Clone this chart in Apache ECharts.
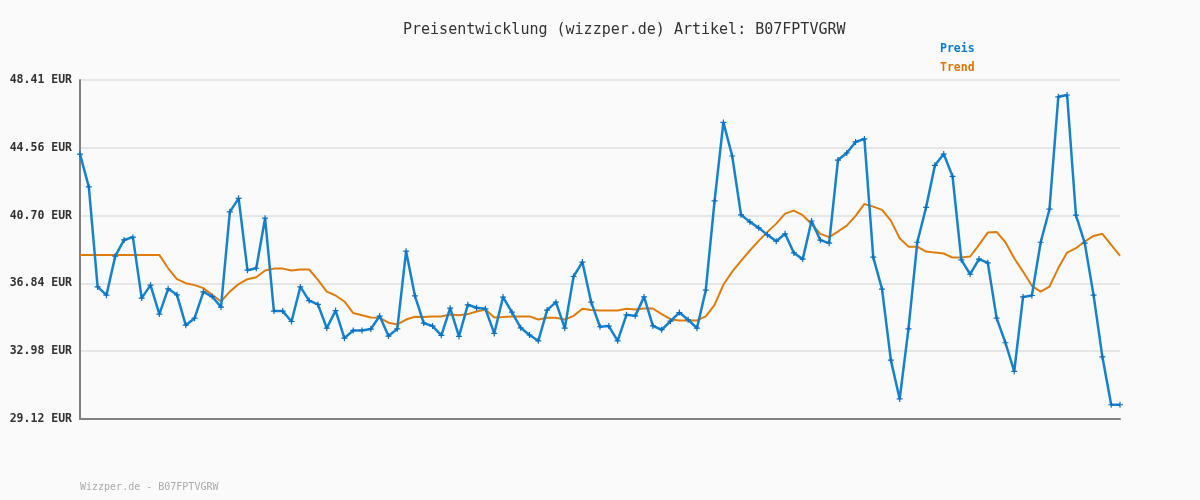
<!DOCTYPE html>
<html>
<head>
<meta charset="utf-8">
<script src="https://cdn.jsdelivr.net/npm/echarts@6/dist/echarts.min.js"></script>
<style>
html,body{margin:0;padding:0;background:#fafafa;}
#chart{width:1200px;height:500px;}
</style>
</head>
<body>
<div id="chart"></div>
<script>
const titleText = 'Preisentwicklung (wizzper.de) Artikel: B07FPTVGRW';
const footerText = 'Wizzper.de - B07FPTVGRW';
const seriesNames = ['Preis', 'Trend'];
const yTickLabels = ['29.12', '32.98', '36.84', '40.70', '44.56', '48.41'];
const yMin = 29.12;
const yMax = 48.415;

const preis = [
  44.20, 42.33, 36.64, 36.17, 38.39, 39.31, 39.47, 36.00, 36.74, 35.09,
  36.53, 36.19, 34.46, 34.86, 36.36, 36.09, 35.49, 40.91, 41.68, 37.59,
  37.70, 40.55, 35.26, 35.26, 34.67, 36.64, 35.86, 35.64, 34.29, 35.29,
  33.72, 34.16, 34.16, 34.24, 34.98, 33.84, 34.25, 38.67, 36.13, 34.58,
  34.41, 33.88, 35.43, 33.82, 35.62, 35.45, 35.39, 33.99, 36.06, 35.20,
  34.31, 33.90, 33.57, 35.32, 35.77, 34.29, 37.23, 38.05, 35.77, 34.37,
  34.41, 33.57, 35.05, 34.99, 36.07, 34.42, 34.20, 34.69, 35.18, 34.77,
  34.29, 36.45, 41.53, 46.00, 44.09, 40.74, 40.34, 40.00, 39.60, 39.24,
  39.66, 38.57, 38.22, 40.39, 39.30, 39.13, 43.86, 44.26, 44.89, 45.06,
  38.33, 36.51, 32.47, 30.26, 34.25, 39.18, 41.17, 43.56, 44.20, 42.93,
  38.18, 37.36, 38.22, 38.01, 34.86, 33.46, 31.83, 36.07, 36.15, 39.18,
  41.06, 47.46, 47.56, 40.72, 39.13, 36.17, 32.66, 29.93, 29.93
];

const trend = [
  38.46, 38.46, 38.46, 38.46, 38.46, 38.46, 38.46, 38.46, 38.46, 38.46,
  37.70, 37.08, 36.85, 36.74, 36.57, 36.19, 35.81, 36.37, 36.80, 37.08,
  37.19, 37.57, 37.68, 37.68, 37.57, 37.63, 37.63, 37.04, 36.37, 36.15,
  35.81, 35.15, 35.03, 34.90, 34.88, 34.60, 34.50, 34.78, 34.94, 34.92,
  34.96, 34.96, 35.07, 35.03, 35.09, 35.24, 35.35, 34.90, 34.92, 34.96,
  34.96, 34.96, 34.78, 34.88, 34.88, 34.78, 34.99, 35.39, 35.33, 35.30,
  35.30, 35.30, 35.39, 35.35, 35.41, 35.41, 35.09, 34.80, 34.73, 34.73,
  34.73, 34.96, 35.62, 36.76, 37.51, 38.12, 38.71, 39.26, 39.77, 40.24,
  40.81, 40.98, 40.72, 40.22, 39.66, 39.47, 39.79, 40.13, 40.68, 41.36,
  41.21, 41.02, 40.41, 39.41, 38.93, 38.93, 38.65, 38.59, 38.54, 38.31,
  38.31, 38.37, 39.03, 39.73, 39.77, 39.18, 38.27, 37.51, 36.70, 36.37,
  36.66, 37.71, 38.59, 38.84, 39.22, 39.54, 39.66, 39.03, 38.40
];

const categories = preis.map((_, i) => 'Tag ' + (i + 1));

const chart = echarts.init(document.getElementById('chart'), null, {renderer: 'canvas'});
chart.setOption({
  backgroundColor: '#fafafa',
  animation: false,
  title: [{
    text: titleText,
    left: 398,
    top: 18,
    textStyle: {fontFamily: 'DejaVu Sans Mono', fontSize: 15, fontWeight: 'normal', color: '#333333'}
  }, {
    text: footerText,
    left: 75,
    top: 477,
    textStyle: {fontFamily: 'DejaVu Sans Mono', fontSize: 10, fontWeight: 'normal', color: '#aaaaaa'}
  }],
  legend: {
    orient: 'vertical',
    left: 930,
    top: 38,
    itemGap: 6,
    itemWidth: 0,
    itemHeight: 13,
    icon: 'none',
    textStyle: {fontFamily: 'DejaVu Sans Mono', fontSize: 11.5, fontWeight: 'bold'},
    data: [
      {name: seriesNames[0], textStyle: {color: '#0f7ac8'}},
      {name: seriesNames[1], textStyle: {color: '#d97808'}}
    ]
  },
  grid: {left: 80, right: 80, top: 80, bottom: 81, containLabel: false},
  xAxis: {
    type: 'category',
    data: categories,
    boundaryGap: false,
    axisLine: {show: true, lineStyle: {color: '#808080', width: 2}},
    axisTick: {show: false},
    axisLabel: {show: false},
    splitLine: {show: false}
  },
  yAxis: {
    type: 'value',
    min: yMin,
    max: yMax,
    interval: (yMax - yMin) / 5,
    axisLine: {show: true, lineStyle: {color: '#808080', width: 2}},
    axisTick: {show: false},
    axisLabel: {
      margin: 8,
      fontFamily: 'DejaVu Sans Mono',
      fontSize: 11.5,
      fontWeight: 'bold',
      color: '#333333',
      formatter: (v, i) => (yTickLabels[i] !== undefined ? yTickLabels[i] : v.toFixed(2)) + ' EUR'
    },
    splitLine: {show: true, lineStyle: {color: '#e6e6e6', width: 2}}
  },
  series: [{
    name: seriesNames[0],
    type: 'line',
    data: preis,
    color: '#1580cc',
    lineStyle: {color: '#1682cc', width: 2.5},
    showSymbol: true,
    showAllSymbol: true,
    symbol: 'path://M2,0H3V2H5V3H3V5H2V3H0V2H2Z',
    symbolSize: 6,
    itemStyle: {color: '#0a6fc0'},
    z: 3
  }, {
    name: seriesNames[1],
    type: 'line',
    data: trend,
    color: '#de7c0c',
    lineStyle: {color: '#de7c0c', width: 2},
    symbol: 'none',
    z: 2
  }]
});
</script>
</body>
</html>
